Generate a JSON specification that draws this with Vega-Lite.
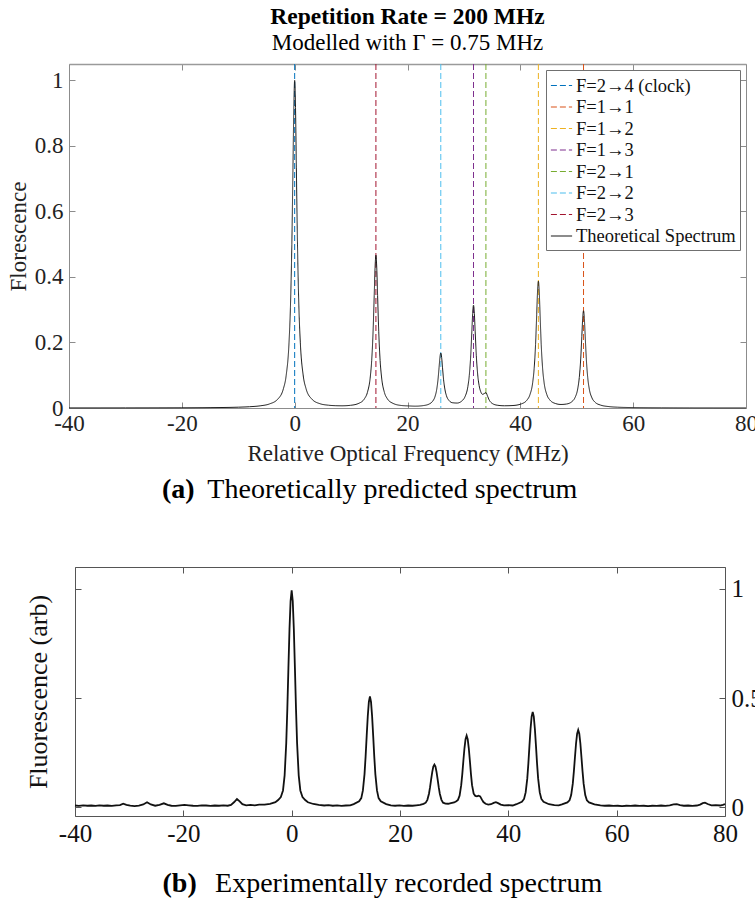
{
 "$schema": "https://vega.github.io/schema/vega-lite/v6.json",
 "padding": {"left": 7, "top": 4, "right": 0, "bottom": 0},
 "background": "white",
 "config": {
  "font": "Liberation Serif",
  "view": {"stroke": null},
  "concat": {"spacing": 0},
  "axis": {"grid": false, "labelFont": "Liberation Serif", "titleFont": "Liberation Serif", "titleFontWeight": "normal", "labelFlush": false, "labelOverlap": false},
  "title": {"font": "Liberation Serif", "color": "#000", "subtitleFont": "Liberation Serif", "subtitleColor": "#000"},
  "legend": {"labelFont": "Liberation Serif"}
 },
 "datasets": {
  "transitions": [
   {"freq": 0, "series": "F=2→4 (clock)"},
   {"freq": 51.2, "series": "F=1→1"},
   {"freq": 43.2, "series": "F=1→2"},
   {"freq": 31.7, "series": "F=1→3"},
   {"freq": 33.9, "series": "F=2→1"},
   {"freq": 25.9, "series": "F=2→2"},
   {"freq": 14.4, "series": "F=2→3"}
  ],
  "theory": [
   {"freq": -40, "fluor": 0.0002, "series": "Theoretical Spectrum"},
   {"freq": -30, "fluor": 0.0003, "series": "Theoretical Spectrum"},
   {"freq": -20, "fluor": 0.0006, "series": "Theoretical Spectrum"},
   {"freq": -15, "fluor": 0.0011, "series": "Theoretical Spectrum"},
   {"freq": -10, "fluor": 0.0025, "series": "Theoretical Spectrum"},
   {"freq": -8, "fluor": 0.0039, "series": "Theoretical Spectrum"},
   {"freq": -6, "fluor": 0.0069, "series": "Theoretical Spectrum"},
   {"freq": -4.5, "fluor": 0.0122, "series": "Theoretical Spectrum"},
   {"freq": -3, "fluor": 0.027, "series": "Theoretical Spectrum"},
   {"freq": -2, "fluor": 0.0588, "series": "Theoretical Spectrum"},
   {"freq": -1.5, "fluor": 0.1, "series": "Theoretical Spectrum"},
   {"freq": -1, "fluor": 0.2, "series": "Theoretical Spectrum"},
   {"freq": -0.75, "fluor": 0.308, "series": "Theoretical Spectrum"},
   {"freq": -0.5, "fluor": 0.5, "series": "Theoretical Spectrum"},
   {"freq": -0.3, "fluor": 0.735, "series": "Theoretical Spectrum"},
   {"freq": -0.15, "fluor": 0.917, "series": "Theoretical Spectrum"},
   {"freq": 0, "fluor": 1.0, "series": "Theoretical Spectrum"},
   {"freq": 0.15, "fluor": 0.917, "series": "Theoretical Spectrum"},
   {"freq": 0.3, "fluor": 0.735, "series": "Theoretical Spectrum"},
   {"freq": 0.5, "fluor": 0.5, "series": "Theoretical Spectrum"},
   {"freq": 0.75, "fluor": 0.308, "series": "Theoretical Spectrum"},
   {"freq": 1, "fluor": 0.201, "series": "Theoretical Spectrum"},
   {"freq": 1.5, "fluor": 0.101, "series": "Theoretical Spectrum"},
   {"freq": 2, "fluor": 0.06, "series": "Theoretical Spectrum"},
   {"freq": 3, "fluor": 0.028, "series": "Theoretical Spectrum"},
   {"freq": 4.5, "fluor": 0.013, "series": "Theoretical Spectrum"},
   {"freq": 6, "fluor": 0.0085, "series": "Theoretical Spectrum"},
   {"freq": 7.2, "fluor": 0.0071, "series": "Theoretical Spectrum"},
   {"freq": 8.4, "fluor": 0.0067, "series": "Theoretical Spectrum"},
   {"freq": 9.9, "fluor": 0.0082, "series": "Theoretical Spectrum"},
   {"freq": 11.4, "fluor": 0.0145, "series": "Theoretical Spectrum"},
   {"freq": 12.4, "fluor": 0.029, "series": "Theoretical Spectrum"},
   {"freq": 12.9, "fluor": 0.048, "series": "Theoretical Spectrum"},
   {"freq": 13.4, "fluor": 0.0944, "series": "Theoretical Spectrum"},
   {"freq": 13.65, "fluor": 0.1444, "series": "Theoretical Spectrum"},
   {"freq": 13.9, "fluor": 0.234, "series": "Theoretical Spectrum"},
   {"freq": 14.1, "fluor": 0.343, "series": "Theoretical Spectrum"},
   {"freq": 14.25, "fluor": 0.428, "series": "Theoretical Spectrum"},
   {"freq": 14.4, "fluor": 0.4665, "series": "Theoretical Spectrum"},
   {"freq": 14.55, "fluor": 0.428, "series": "Theoretical Spectrum"},
   {"freq": 14.7, "fluor": 0.3435, "series": "Theoretical Spectrum"},
   {"freq": 14.9, "fluor": 0.234, "series": "Theoretical Spectrum"},
   {"freq": 15.15, "fluor": 0.1445, "series": "Theoretical Spectrum"},
   {"freq": 15.4, "fluor": 0.0945, "series": "Theoretical Spectrum"},
   {"freq": 15.9, "fluor": 0.048, "series": "Theoretical Spectrum"},
   {"freq": 16.4, "fluor": 0.029, "series": "Theoretical Spectrum"},
   {"freq": 17.4, "fluor": 0.0144, "series": "Theoretical Spectrum"},
   {"freq": 18.9, "fluor": 0.0077, "series": "Theoretical Spectrum"},
   {"freq": 20.4, "fluor": 0.0062, "series": "Theoretical Spectrum"},
   {"freq": 21.4, "fluor": 0.0056, "series": "Theoretical Spectrum"},
   {"freq": 22.9, "fluor": 0.0076, "series": "Theoretical Spectrum"},
   {"freq": 23.9, "fluor": 0.0127, "series": "Theoretical Spectrum"},
   {"freq": 24.4, "fluor": 0.0195, "series": "Theoretical Spectrum"},
   {"freq": 24.9, "fluor": 0.0361, "series": "Theoretical Spectrum"},
   {"freq": 25.15, "fluor": 0.0539, "series": "Theoretical Spectrum"},
   {"freq": 25.4, "fluor": 0.0856, "series": "Theoretical Spectrum"},
   {"freq": 25.6, "fluor": 0.1243, "series": "Theoretical Spectrum"},
   {"freq": 25.75, "fluor": 0.1544, "series": "Theoretical Spectrum"},
   {"freq": 25.9, "fluor": 0.168, "series": "Theoretical Spectrum"},
   {"freq": 26.05, "fluor": 0.1544, "series": "Theoretical Spectrum"},
   {"freq": 26.2, "fluor": 0.1244, "series": "Theoretical Spectrum"},
   {"freq": 26.4, "fluor": 0.0858, "series": "Theoretical Spectrum"},
   {"freq": 26.65, "fluor": 0.0552, "series": "Theoretical Spectrum"},
   {"freq": 26.9, "fluor": 0.0377, "series": "Theoretical Spectrum"},
   {"freq": 27.4, "fluor": 0.0222, "series": "Theoretical Spectrum"},
   {"freq": 27.9, "fluor": 0.0163, "series": "Theoretical Spectrum"},
   {"freq": 28.8, "fluor": 0.0151, "series": "Theoretical Spectrum"},
   {"freq": 29.7, "fluor": 0.0225, "series": "Theoretical Spectrum"},
   {"freq": 30.2, "fluor": 0.0348, "series": "Theoretical Spectrum"},
   {"freq": 30.7, "fluor": 0.0655, "series": "Theoretical Spectrum"},
   {"freq": 30.95, "fluor": 0.0989, "series": "Theoretical Spectrum"},
   {"freq": 31.2, "fluor": 0.1584, "series": "Theoretical Spectrum"},
   {"freq": 31.4, "fluor": 0.2315, "series": "Theoretical Spectrum"},
   {"freq": 31.55, "fluor": 0.2878, "series": "Theoretical Spectrum"},
   {"freq": 31.7, "fluor": 0.3137, "series": "Theoretical Spectrum"},
   {"freq": 31.85, "fluor": 0.2883, "series": "Theoretical Spectrum"},
   {"freq": 32.0, "fluor": 0.232, "series": "Theoretical Spectrum"},
   {"freq": 32.2, "fluor": 0.1594, "series": "Theoretical Spectrum"},
   {"freq": 32.45, "fluor": 0.1006, "series": "Theoretical Spectrum"},
   {"freq": 32.7, "fluor": 0.0684, "series": "Theoretical Spectrum"},
   {"freq": 33.0, "fluor": 0.0489, "series": "Theoretical Spectrum"},
   {"freq": 33.3, "fluor": 0.0417, "series": "Theoretical Spectrum"},
   {"freq": 33.6, "fluor": 0.044, "series": "Theoretical Spectrum"},
   {"freq": 33.9, "fluor": 0.047, "series": "Theoretical Spectrum"},
   {"freq": 34.2, "fluor": 0.0358, "series": "Theoretical Spectrum"},
   {"freq": 34.5, "fluor": 0.0238, "series": "Theoretical Spectrum"},
   {"freq": 34.9, "fluor": 0.0154, "series": "Theoretical Spectrum"},
   {"freq": 35.9, "fluor": 0.0085, "series": "Theoretical Spectrum"},
   {"freq": 37.2, "fluor": 0.0068, "series": "Theoretical Spectrum"},
   {"freq": 38.7, "fluor": 0.0076, "series": "Theoretical Spectrum"},
   {"freq": 40.2, "fluor": 0.0127, "series": "Theoretical Spectrum"},
   {"freq": 41.2, "fluor": 0.0247, "series": "Theoretical Spectrum"},
   {"freq": 41.7, "fluor": 0.0405, "series": "Theoretical Spectrum"},
   {"freq": 42.2, "fluor": 0.079, "series": "Theoretical Spectrum"},
   {"freq": 42.45, "fluor": 0.1205, "series": "Theoretical Spectrum"},
   {"freq": 42.7, "fluor": 0.1945, "series": "Theoretical Spectrum"},
   {"freq": 42.9, "fluor": 0.285, "series": "Theoretical Spectrum"},
   {"freq": 43.05, "fluor": 0.355, "series": "Theoretical Spectrum"},
   {"freq": 43.2, "fluor": 0.387, "series": "Theoretical Spectrum"},
   {"freq": 43.35, "fluor": 0.355, "series": "Theoretical Spectrum"},
   {"freq": 43.5, "fluor": 0.2852, "series": "Theoretical Spectrum"},
   {"freq": 43.7, "fluor": 0.1946, "series": "Theoretical Spectrum"},
   {"freq": 43.95, "fluor": 0.1206, "series": "Theoretical Spectrum"},
   {"freq": 44.2, "fluor": 0.0792, "series": "Theoretical Spectrum"},
   {"freq": 44.7, "fluor": 0.0408, "series": "Theoretical Spectrum"},
   {"freq": 45.2, "fluor": 0.0252, "series": "Theoretical Spectrum"},
   {"freq": 46.2, "fluor": 0.0138, "series": "Theoretical Spectrum"},
   {"freq": 47.2, "fluor": 0.0108, "series": "Theoretical Spectrum"},
   {"freq": 48.2, "fluor": 0.0122, "series": "Theoretical Spectrum"},
   {"freq": 49.2, "fluor": 0.0203, "series": "Theoretical Spectrum"},
   {"freq": 49.7, "fluor": 0.032, "series": "Theoretical Spectrum"},
   {"freq": 50.2, "fluor": 0.0612, "series": "Theoretical Spectrum"},
   {"freq": 50.45, "fluor": 0.0929, "series": "Theoretical Spectrum"},
   {"freq": 50.7, "fluor": 0.1495, "series": "Theoretical Spectrum"},
   {"freq": 50.9, "fluor": 0.2188, "series": "Theoretical Spectrum"},
   {"freq": 51.05, "fluor": 0.2725, "series": "Theoretical Spectrum"},
   {"freq": 51.2, "fluor": 0.2968, "series": "Theoretical Spectrum"},
   {"freq": 51.35, "fluor": 0.2724, "series": "Theoretical Spectrum"},
   {"freq": 51.5, "fluor": 0.2186, "series": "Theoretical Spectrum"},
   {"freq": 51.7, "fluor": 0.149, "series": "Theoretical Spectrum"},
   {"freq": 51.95, "fluor": 0.0922, "series": "Theoretical Spectrum"},
   {"freq": 52.2, "fluor": 0.0603, "series": "Theoretical Spectrum"},
   {"freq": 52.7, "fluor": 0.0307, "series": "Theoretical Spectrum"},
   {"freq": 53.2, "fluor": 0.0184, "series": "Theoretical Spectrum"},
   {"freq": 54.2, "fluor": 0.009, "series": "Theoretical Spectrum"},
   {"freq": 55.7, "fluor": 0.0043, "series": "Theoretical Spectrum"},
   {"freq": 57.2, "fluor": 0.0025, "series": "Theoretical Spectrum"},
   {"freq": 60, "fluor": 0.0013, "series": "Theoretical Spectrum"},
   {"freq": 65, "fluor": 0.0006, "series": "Theoretical Spectrum"},
   {"freq": 70, "fluor": 0.0003, "series": "Theoretical Spectrum"},
   {"freq": 80, "fluor": 0.0002, "series": "Theoretical Spectrum"}
  ],
  "measured": [
   {"freq": -40, "fluor": 0.008}, {"freq": -39.3, "fluor": 0.006}, {"freq": -38.5, "fluor": 0.009}, {"freq": -37.7, "fluor": 0.007},
   {"freq": -37, "fluor": 0.008}, {"freq": -36.2, "fluor": 0.006}, {"freq": -35.5, "fluor": 0.009}, {"freq": -34.7, "fluor": 0.007},
   {"freq": -34, "fluor": 0.008}, {"freq": -33.2, "fluor": 0.006}, {"freq": -32.4, "fluor": 0.009}, {"freq": -31.7, "fluor": 0.010},
   {"freq": -31.1, "fluor": 0.016}, {"freq": -30.5, "fluor": 0.011}, {"freq": -29.8, "fluor": 0.007}, {"freq": -29, "fluor": 0.005},
   {"freq": -28.2, "fluor": 0.008}, {"freq": -27.4, "fluor": 0.013}, {"freq": -26.7, "fluor": 0.023}, {"freq": -26, "fluor": 0.013},
   {"freq": -25.2, "fluor": 0.007}, {"freq": -24.4, "fluor": 0.011}, {"freq": -23.6, "fluor": 0.018}, {"freq": -22.9, "fluor": 0.011},
   {"freq": -22.2, "fluor": 0.007}, {"freq": -21.4, "fluor": 0.006}, {"freq": -20.6, "fluor": 0.009}, {"freq": -19.8, "fluor": 0.011},
   {"freq": -19, "fluor": 0.009}, {"freq": -18.2, "fluor": 0.007}, {"freq": -17.4, "fluor": 0.006}, {"freq": -16.6, "fluor": 0.009},
   {"freq": -15.8, "fluor": 0.008}, {"freq": -15, "fluor": 0.006}, {"freq": -14.2, "fluor": 0.008}, {"freq": -13.4, "fluor": 0.007},
   {"freq": -12.6, "fluor": 0.009}, {"freq": -11.8, "fluor": 0.007}, {"freq": -11.2, "fluor": 0.011}, {"freq": -10.6, "fluor": 0.024},
   {"freq": -10.1, "fluor": 0.038}, {"freq": -9.6, "fluor": 0.027}, {"freq": -9.1, "fluor": 0.014}, {"freq": -8.4, "fluor": 0.009},
   {"freq": -7.6, "fluor": 0.011}, {"freq": -6.8, "fluor": 0.009}, {"freq": -6, "fluor": 0.012}, {"freq": -5, "fluor": 0.012},
   {"freq": -4, "fluor": 0.016}, {"freq": -3, "fluor": 0.023}, {"freq": -2.5, "fluor": 0.033}, {"freq": -2, "fluor": 0.047},
   {"freq": -1.6, "fluor": 0.077}, {"freq": -1.3, "fluor": 0.146}, {"freq": -1, "fluor": 0.294}, {"freq": -0.8, "fluor": 0.451},
   {"freq": -0.6, "fluor": 0.638}, {"freq": -0.4, "fluor": 0.816}, {"freq": -0.2, "fluor": 0.944}, {"freq": 0, "fluor": 0.993},
   {"freq": 0.2, "fluor": 0.944}, {"freq": 0.4, "fluor": 0.816}, {"freq": 0.6, "fluor": 0.638}, {"freq": 0.8, "fluor": 0.451},
   {"freq": 1, "fluor": 0.294}, {"freq": 1.3, "fluor": 0.146}, {"freq": 1.6, "fluor": 0.077}, {"freq": 2, "fluor": 0.047},
   {"freq": 2.5, "fluor": 0.033}, {"freq": 3, "fluor": 0.023}, {"freq": 4, "fluor": 0.015}, {"freq": 5, "fluor": 0.011},
   {"freq": 6, "fluor": 0.008}, {"freq": 6.8, "fluor": 0.010}, {"freq": 7.6, "fluor": 0.007}, {"freq": 8.4, "fluor": 0.009},
   {"freq": 9.2, "fluor": 0.006}, {"freq": 10, "fluor": 0.008}, {"freq": 10.8, "fluor": 0.009}, {"freq": 11.45, "fluor": 0.0145},
   {"freq": 12.45, "fluor": 0.027}, {"freq": 12.85, "fluor": 0.042}, {"freq": 13.15, "fluor": 0.077}, {"freq": 13.45, "fluor": 0.152},
   {"freq": 13.65, "fluor": 0.232}, {"freq": 13.85, "fluor": 0.327}, {"freq": 14.05, "fluor": 0.417}, {"freq": 14.25, "fluor": 0.482},
   {"freq": 14.45, "fluor": 0.507}, {"freq": 14.65, "fluor": 0.482}, {"freq": 14.85, "fluor": 0.417}, {"freq": 15.05, "fluor": 0.327},
   {"freq": 15.25, "fluor": 0.232}, {"freq": 15.45, "fluor": 0.152}, {"freq": 15.75, "fluor": 0.077}, {"freq": 16.05, "fluor": 0.042},
   {"freq": 16.45, "fluor": 0.027}, {"freq": 17.45, "fluor": 0.0145}, {"freq": 18.3, "fluor": 0.009}, {"freq": 19.1, "fluor": 0.007},
   {"freq": 19.9, "fluor": 0.009}, {"freq": 20.7, "fluor": 0.006}, {"freq": 21.5, "fluor": 0.008}, {"freq": 22.3, "fluor": 0.007},
   {"freq": 23, "fluor": 0.009}, {"freq": 23.7, "fluor": 0.011}, {"freq": 24.35, "fluor": 0.0155}, {"freq": 24.75, "fluor": 0.021},
   {"freq": 25.05, "fluor": 0.034}, {"freq": 25.35, "fluor": 0.062}, {"freq": 25.55, "fluor": 0.092}, {"freq": 25.75, "fluor": 0.128},
   {"freq": 25.95, "fluor": 0.161}, {"freq": 26.15, "fluor": 0.186}, {"freq": 26.35, "fluor": 0.195}, {"freq": 26.55, "fluor": 0.186},
   {"freq": 26.75, "fluor": 0.161}, {"freq": 26.95, "fluor": 0.128}, {"freq": 27.15, "fluor": 0.092}, {"freq": 27.35, "fluor": 0.062},
   {"freq": 27.65, "fluor": 0.034}, {"freq": 27.95, "fluor": 0.021}, {"freq": 28.4, "fluor": 0.017}, {"freq": 28.9, "fluor": 0.016},
   {"freq": 29.4, "fluor": 0.019}, {"freq": 30.0, "fluor": 0.022}, {"freq": 30.4, "fluor": 0.028}, {"freq": 30.7, "fluor": 0.034},
   {"freq": 31.0, "fluor": 0.053}, {"freq": 31.3, "fluor": 0.101}, {"freq": 31.5, "fluor": 0.152}, {"freq": 31.7, "fluor": 0.213},
   {"freq": 31.9, "fluor": 0.270}, {"freq": 32.1, "fluor": 0.312}, {"freq": 32.3, "fluor": 0.328}, {"freq": 32.5, "fluor": 0.312},
   {"freq": 32.7, "fluor": 0.270}, {"freq": 32.9, "fluor": 0.213}, {"freq": 33.1, "fluor": 0.152}, {"freq": 33.3, "fluor": 0.101},
   {"freq": 33.6, "fluor": 0.062}, {"freq": 33.9, "fluor": 0.052}, {"freq": 34.2, "fluor": 0.050}, {"freq": 34.5, "fluor": 0.053},
   {"freq": 34.8, "fluor": 0.050}, {"freq": 35.1, "fluor": 0.036}, {"freq": 35.4, "fluor": 0.024}, {"freq": 35.8, "fluor": 0.016},
   {"freq": 36.3, "fluor": 0.012}, {"freq": 36.8, "fluor": 0.014}, {"freq": 37.3, "fluor": 0.020}, {"freq": 37.7, "fluor": 0.023},
   {"freq": 38.1, "fluor": 0.019}, {"freq": 38.6, "fluor": 0.012}, {"freq": 39.2, "fluor": 0.009}, {"freq": 40, "fluor": 0.010},
   {"freq": 40.8, "fluor": 0.008}, {"freq": 41.5, "fluor": 0.014}, {"freq": 42.5, "fluor": 0.025}, {"freq": 42.9, "fluor": 0.038},
   {"freq": 43.2, "fluor": 0.068}, {"freq": 43.5, "fluor": 0.132}, {"freq": 43.7, "fluor": 0.201}, {"freq": 43.9, "fluor": 0.282},
   {"freq": 44.1, "fluor": 0.359}, {"freq": 44.3, "fluor": 0.415}, {"freq": 44.5, "fluor": 0.436}, {"freq": 44.7, "fluor": 0.415},
   {"freq": 44.9, "fluor": 0.359}, {"freq": 45.1, "fluor": 0.282}, {"freq": 45.3, "fluor": 0.201}, {"freq": 45.5, "fluor": 0.132},
   {"freq": 45.8, "fluor": 0.068}, {"freq": 46.1, "fluor": 0.038}, {"freq": 46.5, "fluor": 0.025}, {"freq": 47.5, "fluor": 0.014},
   {"freq": 48.5, "fluor": 0.010}, {"freq": 49.3, "fluor": 0.009}, {"freq": 49.9, "fluor": 0.013}, {"freq": 50.9, "fluor": 0.022},
   {"freq": 51.3, "fluor": 0.032}, {"freq": 51.6, "fluor": 0.056}, {"freq": 51.9, "fluor": 0.108}, {"freq": 52.1, "fluor": 0.164},
   {"freq": 52.3, "fluor": 0.229}, {"freq": 52.5, "fluor": 0.292}, {"freq": 52.7, "fluor": 0.337}, {"freq": 52.9, "fluor": 0.354},
   {"freq": 53.1, "fluor": 0.337}, {"freq": 53.3, "fluor": 0.292}, {"freq": 53.5, "fluor": 0.229}, {"freq": 53.7, "fluor": 0.164},
   {"freq": 53.9, "fluor": 0.108}, {"freq": 54.2, "fluor": 0.056}, {"freq": 54.5, "fluor": 0.032}, {"freq": 54.9, "fluor": 0.022},
   {"freq": 55.9, "fluor": 0.013}, {"freq": 57, "fluor": 0.009}, {"freq": 57.8, "fluor": 0.007}, {"freq": 58.6, "fluor": 0.008},
   {"freq": 59.4, "fluor": 0.006}, {"freq": 60.2, "fluor": 0.007}, {"freq": 61, "fluor": 0.005}, {"freq": 61.8, "fluor": 0.007},
   {"freq": 62.6, "fluor": 0.006}, {"freq": 63.4, "fluor": 0.008}, {"freq": 64.2, "fluor": 0.006}, {"freq": 65, "fluor": 0.007},
   {"freq": 65.8, "fluor": 0.005}, {"freq": 66.6, "fluor": 0.007}, {"freq": 67.4, "fluor": 0.006}, {"freq": 68.2, "fluor": 0.008},
   {"freq": 69, "fluor": 0.006}, {"freq": 69.8, "fluor": 0.009}, {"freq": 70.5, "fluor": 0.013}, {"freq": 71.1, "fluor": 0.014},
   {"freq": 71.7, "fluor": 0.010}, {"freq": 72.4, "fluor": 0.007}, {"freq": 73.2, "fluor": 0.008}, {"freq": 74, "fluor": 0.006},
   {"freq": 74.8, "fluor": 0.008}, {"freq": 75.4, "fluor": 0.012}, {"freq": 75.9, "fluor": 0.019}, {"freq": 76.3, "fluor": 0.021},
   {"freq": 76.8, "fluor": 0.015}, {"freq": 77.5, "fluor": 0.009}, {"freq": 78.3, "fluor": 0.010}, {"freq": 79.1, "fluor": 0.008},
   {"freq": 79.6, "fluor": 0.011}, {"freq": 80, "fluor": 0.014}
  ]
 },
 "spacing": 62,
 "resolve": {"scale": {"color": "independent", "strokeDash": "independent"}, "legend": {"color": "independent", "strokeDash": "independent"}},
 "vconcat": [
  {
   "title": {"text": "Theoretically predicted spectrum", "orient": "bottom", "anchor": "middle", "fontSize": 28, "fontWeight": "normal", "offset": -28, "dx": 10},
   "resolve": {"scale": {"color": "independent", "strokeDash": "independent"}, "legend": {"color": "independent", "strokeDash": "independent"}},
   "vconcat": [
    {
     "title": {"text": "(a)", "orient": "bottom", "anchor": "middle", "fontSize": 28, "fontWeight": "bold", "offset": 10.5, "dx": -204},
     "resolve": {"scale": {"color": "independent", "strokeDash": "independent"}, "legend": {"color": "independent", "strokeDash": "independent"}},
     "vconcat": [
      {
       "width": 677,
       "height": 344,
       "title": {"text": "Repetition Rate = 200 MHz", "subtitle": "Modelled with Γ = 0.75 MHz", "frame": "group", "anchor": "middle", "fontSize": 23.5, "fontWeight": "bold", "subtitleFontSize": 23, "subtitlePadding": 4, "offset": 8.5},
       "layer": [
        {
         "data": {"name": "transitions"},
         "mark": {"type": "rule", "strokeWidth": 1},
         "encoding": {
          "x": {"field": "freq", "type": "quantitative", "scale": {"domain": [-40, 80], "nice": false, "zero": false},
                "axis": {"orient": "bottom", "values": [-40, -20, 0, 20, 40, 60, 80], "labelExpr": "'' + datum.value", "title": "Relative Optical Frequency (MHz)", "titleFontSize": 23, "titlePadding": 7, "labelFontSize": 23, "labelPadding": 10, "tickSize": -6, "domainColor": "#8c8c8c", "tickColor": "#8c8c8c", "labelColor": "#222", "titleColor": "#222"}},
          "color": {"field": "series", "type": "nominal",
                    "scale": {"domain": ["F=2→4 (clock)", "F=1→1", "F=1→2", "F=1→3", "F=2→1", "F=2→2", "F=2→3", "Theoretical Spectrum"], "range": ["#0072BD", "#D95319", "#EDB120", "#7E2F8E", "#77AC30", "#4DBEEE", "#A2142F", "#1a1a1a"]},
                    "legend": {"title": null, "orient": "top-right", "offset": 6, "symbolType": "stroke", "symbolSize": 450, "symbolStrokeWidth": 1.2, "labelFontSize": 18.5, "labelColor": "#111", "strokeColor": "#707070", "fillColor": "white", "padding": 4, "rowPadding": 0.5, "labelOffset": 3, "labelLimit": 300}},
          "strokeDash": {"field": "series", "type": "nominal",
                    "scale": {"domain": ["F=2→4 (clock)", "F=1→1", "F=1→2", "F=1→3", "F=2→1", "F=2→2", "F=2→3", "Theoretical Spectrum"], "range": [[6, 3], [6, 3], [6, 3], [6, 3], [6, 3], [6, 3], [6, 3], [1, 0]]},
                    "legend": {"title": null, "orient": "top-right", "offset": 6, "symbolType": "stroke", "symbolSize": 450, "symbolStrokeWidth": 1.2, "labelFontSize": 18.5, "labelColor": "#111", "strokeColor": "#707070", "fillColor": "white", "padding": 4, "rowPadding": 0.5, "labelOffset": 3, "labelLimit": 300}}
         }
        },
        {
         "data": {"name": "theory"},
         "mark": {"type": "line", "strokeWidth": 1, "interpolate": "monotone"},
         "encoding": {
          "x": {"field": "freq", "type": "quantitative", "scale": {"domain": [-40, 80], "nice": false, "zero": false},
                "axis": {"orient": "top", "values": [-40, -20, 0, 20, 40, 60, 80], "labels": false, "title": null, "tickSize": -6, "domainColor": "#9a9a9a", "domainWidth": 1.5, "tickColor": "#8c8c8c"}},
          "y": {"field": "fluor", "type": "quantitative", "scale": {"domain": [0, 1.05], "nice": false, "zero": false},
                "axis": {"orient": "left", "values": [0, 0.2, 0.4, 0.6, 0.8, 1], "format": "~g", "title": "Florescence", "titleFontSize": 23, "titlePadding": 4, "labelFontSize": 23, "labelPadding": 12, "tickSize": -6, "domainColor": "#8c8c8c", "tickColor": "#8c8c8c", "labelColor": "#222", "titleColor": "#222"}},
          "color": {"field": "series", "type": "nominal",
                    "scale": {"domain": ["F=2→4 (clock)", "F=1→1", "F=1→2", "F=1→3", "F=2→1", "F=2→2", "F=2→3", "Theoretical Spectrum"], "range": ["#0072BD", "#D95319", "#EDB120", "#7E2F8E", "#77AC30", "#4DBEEE", "#A2142F", "#1a1a1a"]}},
          "strokeDash": {"field": "series", "type": "nominal",
                    "scale": {"domain": ["F=2→4 (clock)", "F=1→1", "F=1→2", "F=1→3", "F=2→1", "F=2→2", "F=2→3", "Theoretical Spectrum"], "range": [[6, 3], [6, 3], [6, 3], [6, 3], [6, 3], [6, 3], [6, 3], [1, 0]]}}
         }
        },
        {
         "data": {"name": "theory"},
         "mark": {"type": "line", "opacity": 0},
         "encoding": {
          "x": {"field": "freq", "type": "quantitative", "scale": {"domain": [-40, 80], "nice": false, "zero": false}, "axis": null},
          "y": {"field": "fluor", "type": "quantitative", "scale": {"domain": [0, 1.05], "nice": false, "zero": false},
                "axis": {"orient": "right", "values": [0, 0.2, 0.4, 0.6, 0.8, 1], "labels": false, "title": null, "tickSize": -6, "domainColor": "#8c8c8c", "tickColor": "#8c8c8c"}}
         }
        }
       ],
       "resolve": {"axis": {"x": "independent", "y": "independent"}}
      }
     ]
    }
   ]
  },
  {
   "title": {"text": "Experimentally recorded spectrum", "orient": "bottom", "anchor": "middle", "fontSize": 28, "fontWeight": "normal", "offset": -28, "dx": 15},
   "vconcat": [
    {
     "title": {"text": "(b)", "orient": "bottom", "anchor": "middle", "fontSize": 28, "fontWeight": "bold", "offset": 24, "dx": -214},
     "spacing": 0,
     "bounds": "flush",
     "hconcat": [
      {
       "width": 6,
       "height": 249,
       "data": {"values": []},
       "mark": {"type": "point", "opacity": 0},
       "encoding": {
        "y": {"field": "fluor", "type": "quantitative", "scale": {"domain": [-0.04, 1.1], "nice": false, "zero": false},
              "axis": {"orient": "left", "labels": false, "ticks": false, "domain": false, "title": "Fluorescence (arb)", "titleFontSize": 26, "titlePadding": 18, "titleColor": "#111"}}
       }
      },
      {
       "width": 650,
       "height": 249,
       "layer": [
        {
         "data": {"name": "measured"},
         "mark": {"type": "line", "color": "#111", "strokeWidth": 1.8},
         "encoding": {
          "x": {"field": "freq", "type": "quantitative", "scale": {"domain": [-40, 80], "nice": false, "zero": false},
                "axis": {"orient": "bottom", "values": [-40, -20, 0, 20, 40, 60, 80], "labelExpr": "'' + datum.value", "title": null, "labelFontSize": 25, "labelPadding": 11, "tickSize": -6, "domainColor": "#555", "tickColor": "#555", "labelColor": "#111"}},
          "y": {"field": "fluor", "type": "quantitative", "scale": {"domain": [-0.04, 1.1], "nice": false, "zero": false},
                "axis": {"orient": "right", "values": [0, 0.5, 1], "format": "~g", "title": null, "labelFontSize": 25, "labelPadding": 12, "tickSize": -6, "domainColor": "#555", "tickColor": "#555", "labelColor": "#111"}}
         }
        },
        {
         "data": {"name": "measured"},
         "mark": {"type": "line", "opacity": 0},
         "encoding": {
          "x": {"field": "freq", "type": "quantitative", "scale": {"domain": [-40, 80], "nice": false, "zero": false},
                "axis": {"orient": "top", "values": [-40, -20, 0, 20, 40, 60, 80], "labels": false, "title": null, "tickSize": -6, "domainColor": "#555", "tickColor": "#555"}},
          "y": {"field": "fluor", "type": "quantitative", "scale": {"domain": [-0.04, 1.1], "nice": false, "zero": false},
                "axis": {"orient": "left", "values": [0, 0.5, 1], "labels": false, "title": null, "tickSize": -6, "minExtent": 0, "maxExtent": 0, "domainColor": "#555", "tickColor": "#555"}}
         }
        }
       ],
       "resolve": {"axis": {"x": "independent", "y": "independent"}}
      }
     ]
    }
   ]
  }
 ]
}
